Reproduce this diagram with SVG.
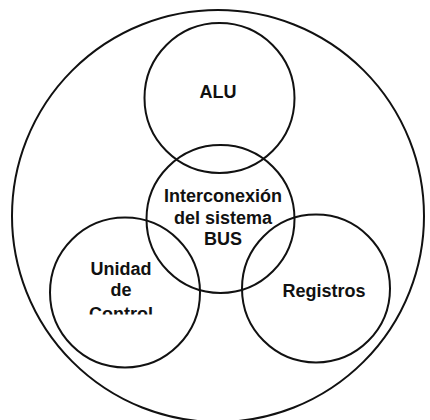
<svg xmlns="http://www.w3.org/2000/svg" width="430" height="420" viewBox="0 0 430 420">
<style>
.c{fill:none;stroke:#111;stroke-width:2}
.t{font-family:"Liberation Sans",Arial,sans-serif;font-weight:bold;font-size:18px;fill:#111;text-anchor:middle}
</style>
<defs>
<clipPath id="cut"><rect x="0" y="0" width="430" height="314.5"/></clipPath>
</defs>
<rect width="430" height="420" fill="#fff"/>
<g id="sistema"><circle class="c" cx="218" cy="216" r="206"/></g>
<g id="alu"><circle class="c" cx="219.5" cy="98" r="75"/><text class="t" x="218" y="98">ALU</text></g>
<g id="bus"><circle class="c" cx="220.5" cy="219" r="74"/>
<text class="t" x="223" y="202">Interconexión</text>
<text class="t" x="223" y="224">del sistema</text>
<text class="t" x="223" y="245">BUS</text></g>
<g id="control"><circle class="c" cx="125" cy="292.5" r="75"/>
<text class="t" x="121" y="275">Unidad</text>
<text class="t" x="121" y="296">de</text>
<text class="t" x="121" y="320" clip-path="url(#cut)">Control</text></g>
<g id="registros"><circle class="c" cx="316" cy="288.5" r="74"/><text class="t" x="324" y="297">Registros</text></g>
<g id="connectors"/>
</svg>
